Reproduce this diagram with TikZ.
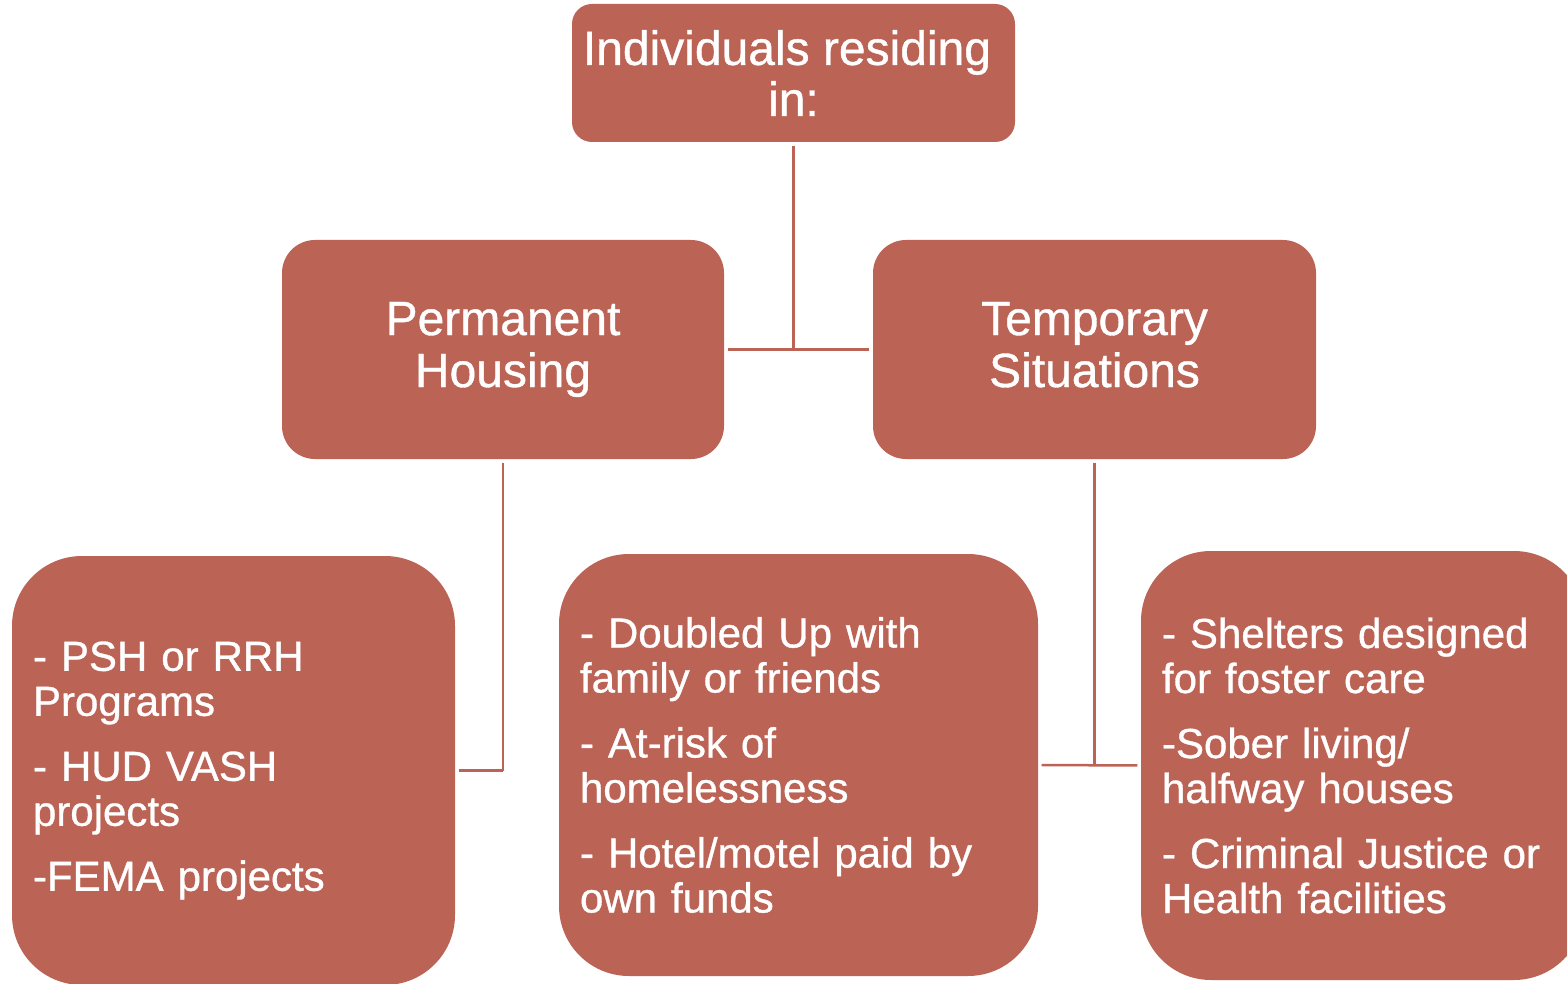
\documentclass[tikz,border=0pt]{standalone}
\usepackage{fontspec}
\setmainfont[FakeBold=0.8]{Liberation Sans}
\definecolor{boxred}{RGB}{187,99,84}
\begin{document}
\begin{tikzpicture}[x=1pt,y=-1pt,
  box/.style={draw=none, fill=boxred, text=white, rectangle, inner sep=0pt},
  head/.style={box, rounded corners=20pt, align=center, font=\fontsize{48}{51}\selectfont},
  mid/.style={box, rounded corners=33pt, align=center, font=\fontsize{48}{52}\selectfont},
  leaf/.style={box, rounded corners=70pt, align=left, inner xsep=21pt, font=\fontsize{42}{45}\selectfont},
  link/.style={draw=boxred, line width=2.5pt, shorten <=3.5pt, shorten >=3.5pt}]
\useasboundingbox (0,0) rectangle (1567,984);
\clip (0,0) rectangle (1567,984);
\node[head, minimum width=443pt, minimum height=138pt] (top) at (793.5,73) {Individuals residing\hspace*{13pt}\\in:};
\node[mid, minimum width=442pt, minimum height=219pt] (perm) at (503,349.5) {Permanent\\Housing};
\node[mid, minimum width=443pt, minimum height=219pt] (temp) at (1094.5,349.5) {Temporary\\Situations\vphantom{g}};
\node[leaf, minimum width=443pt, minimum height=429pt, text width=401pt] (left) at (233.5,770.5)
  {- PSH or RRH\\Programs\\[20pt]- HUD VASH\\projects\\[20pt]-FEMA projects};
\node[leaf, minimum width=479pt, minimum height=422pt, text width=437pt] (center) at (798.5,765)
  {- Doubled Up with\\family or friends\\[20pt]- At-risk of\\homelessness\\[20pt]- Hotel/motel paid by\\own funds};
\node[leaf, minimum width=443pt, minimum height=429pt, text width=401pt] (right) at (1362.5,765.5)
  {- Shelters designed\\for foster care\\[20pt]-Sober living/\\halfway houses\\[20pt]- Criminal Justice or\\Health facilities};
\coordinate (j1) at (top.south |- perm.east);
\draw[link, shorten >=0pt] (top.south) -- (j1);
\draw[link] (perm.east) -- (temp.west);
\coordinate (j2) at (perm.south |- left.east);
\draw[link, shorten >=0pt] (perm.south) -- (j2);
\draw[link, shorten <=0pt] (j2) -- (left.east);
\coordinate (j3) at (temp.south |- center.east);
\draw[link, shorten >=0pt] (temp.south) -- (j3);
\draw[link] (center.east) -- (right.west);
\end{tikzpicture}
\end{document}
